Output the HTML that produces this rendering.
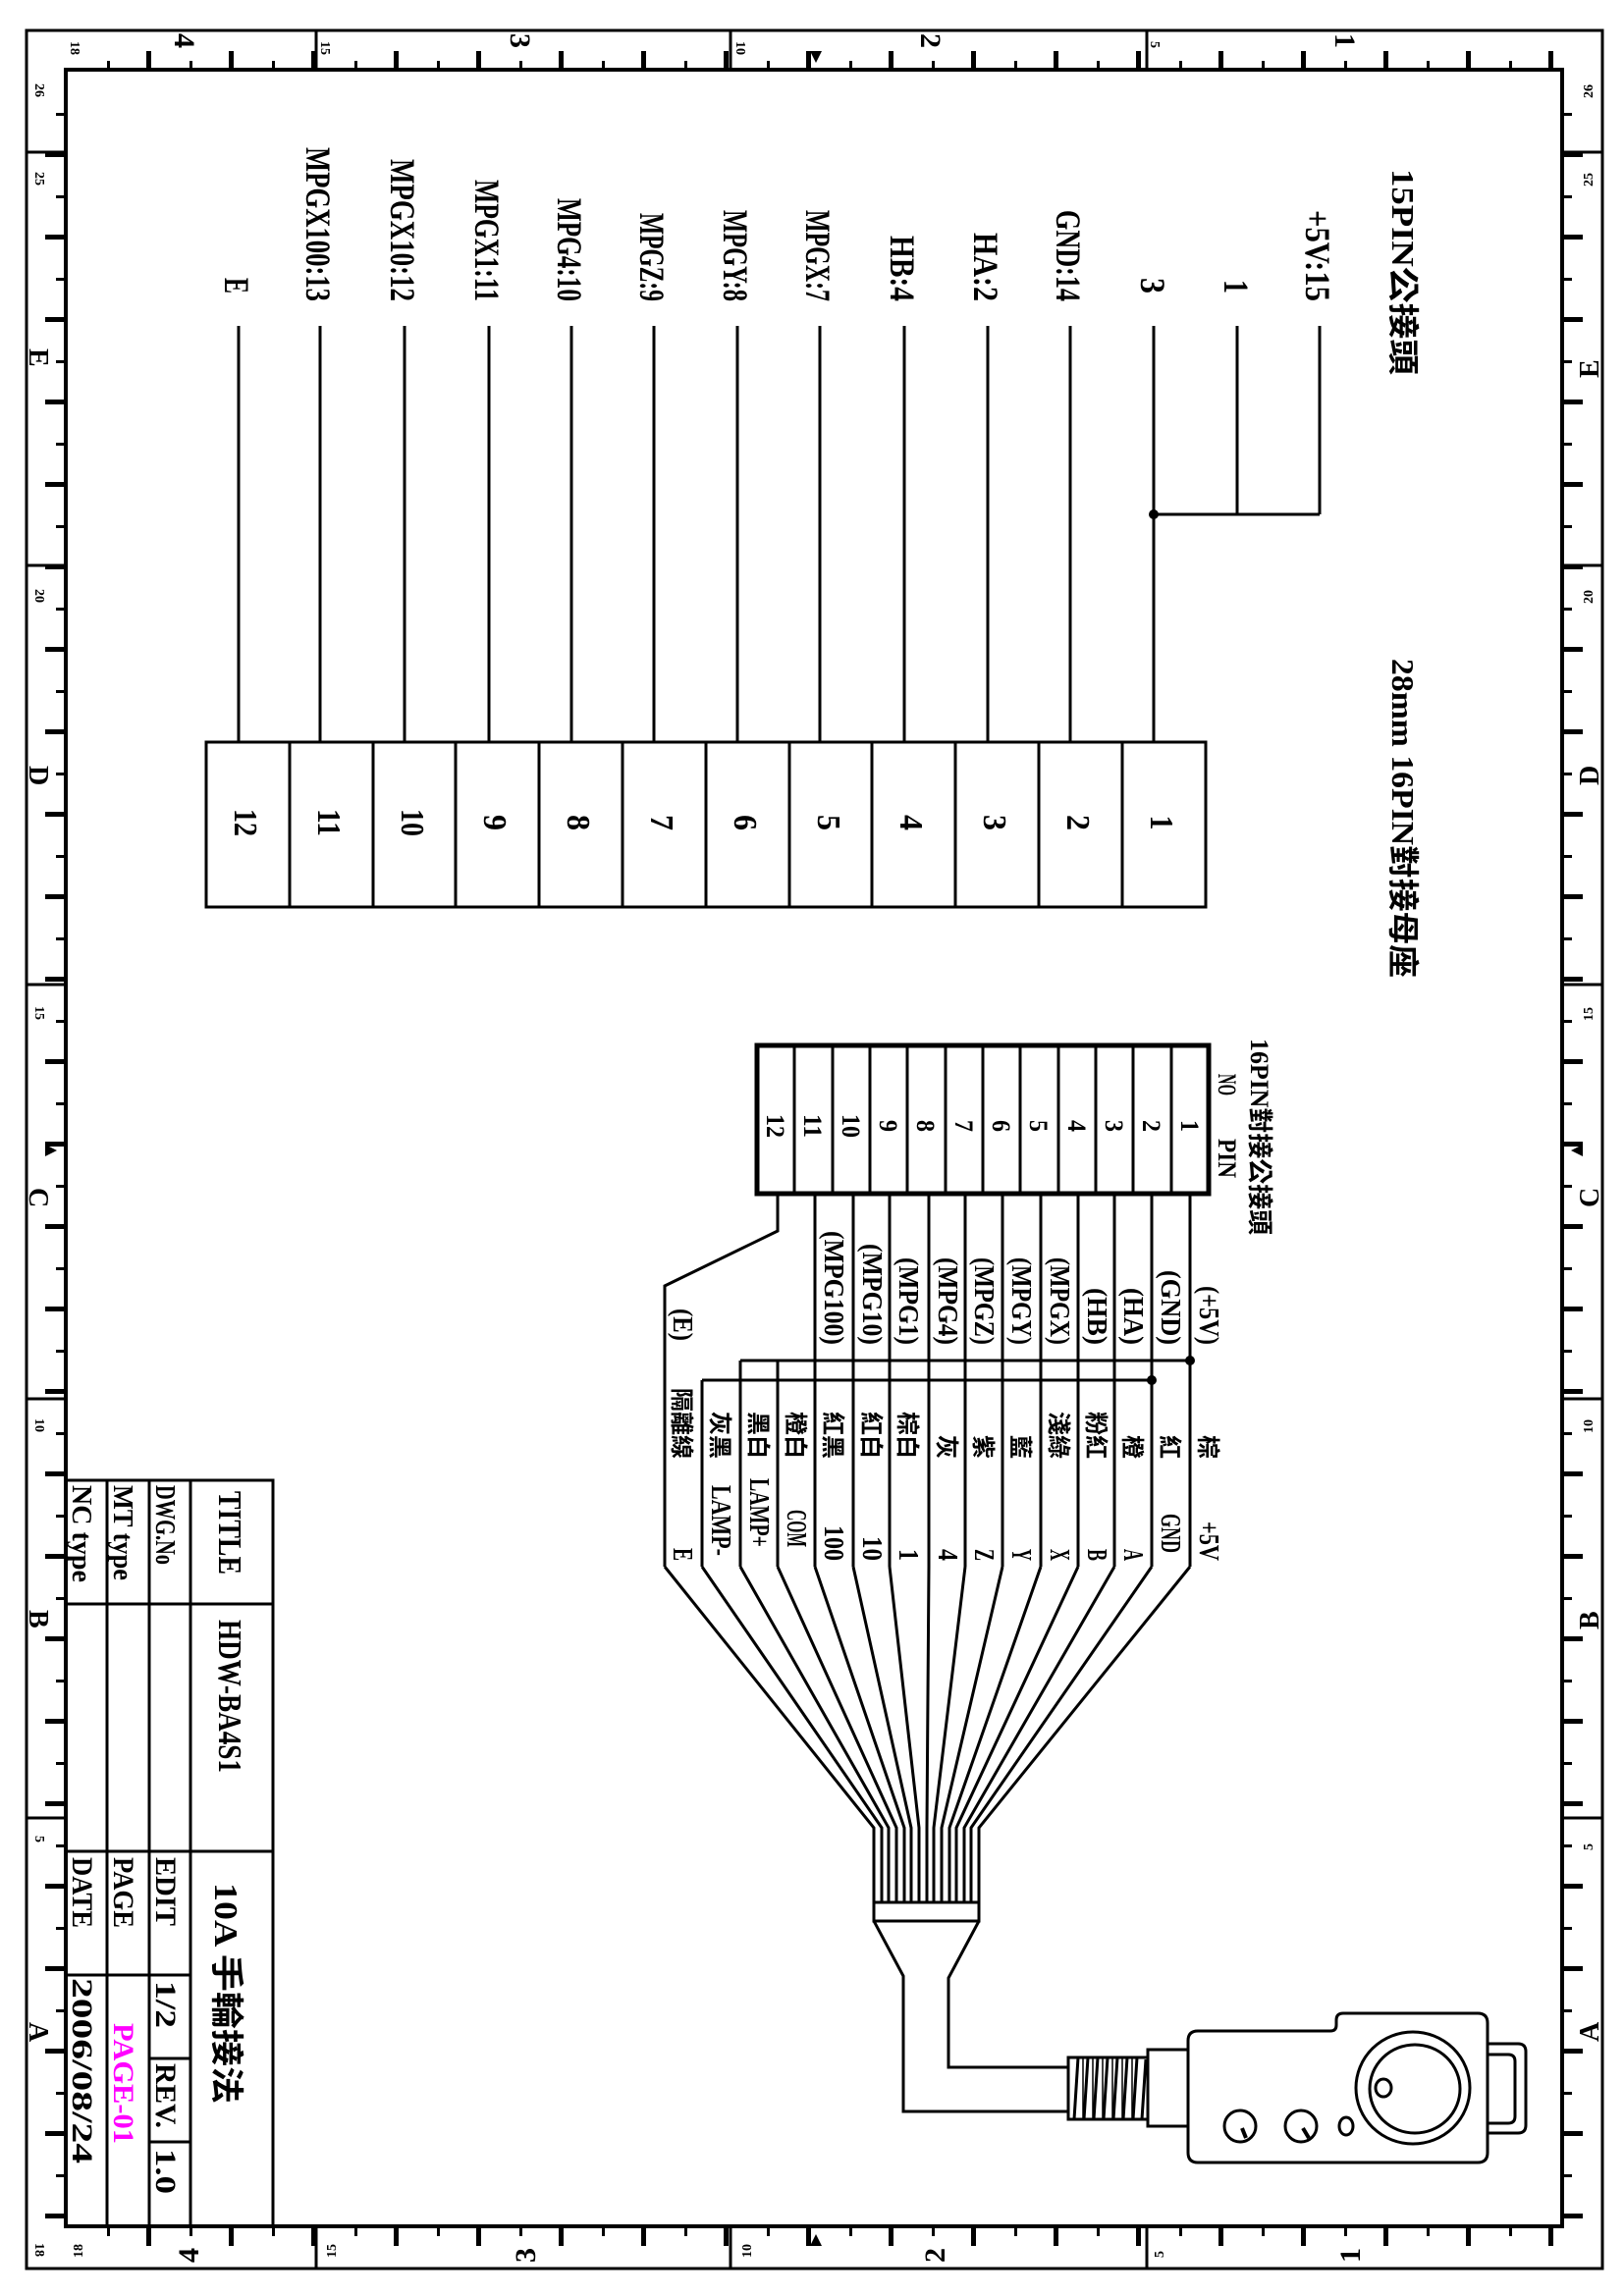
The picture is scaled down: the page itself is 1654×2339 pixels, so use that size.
<!DOCTYPE html>
<html><head><meta charset="utf-8"><style>
html,body{margin:0;padding:0;background:#fff;}
svg{display:block;}
text{font-family:"Liberation Serif","Noto Serif CJK SC","Noto Sans CJK TC",serif;font-weight:bold;fill:#000;}
.c{font-family:"Liberation Serif","Noto Sans CJK TC","Noto Sans CJK SC",sans-serif;}
</style></head><body>
<svg width="1654" height="2339" viewBox="0 0 1654 2339" xmlns="http://www.w3.org/2000/svg">
<defs>
<pattern id="pt" x="109" y="0" width="84" height="2339" patternUnits="userSpaceOnUse">
<rect x="-2" y="62" width="5" height="10"/><rect x="40" y="52" width="5" height="20"/>
</pattern>
<pattern id="pb" x="109" y="0" width="84" height="2339" patternUnits="userSpaceOnUse">
<rect x="-2" y="2268" width="5" height="10"/><rect x="40" y="2268" width="5" height="20"/>
</pattern>
<pattern id="pl" x="0" y="115" width="1654" height="84" patternUnits="userSpaceOnUse">
<rect x="57" y="-2" width="10" height="5"/><rect x="46" y="40" width="21" height="5"/>
</pattern>
<pattern id="pr" x="0" y="115" width="1654" height="84" patternUnits="userSpaceOnUse">
<rect x="1591" y="-2" width="10" height="5"/><rect x="1591" y="40" width="21" height="5"/>
</pattern>
</defs>
<rect width="1654" height="2339" fill="#fff"/>
<!-- ruler ticks -->
<rect x="75" y="31" width="1510" height="41" fill="url(#pt)"/>
<rect x="75" y="2268" width="1510" height="41" fill="url(#pb)"/>
<rect x="27" y="80" width="40" height="2180" fill="url(#pl)"/>
<rect x="1591" y="80" width="40" height="2180" fill="url(#pr)"/>
<g stroke="#000" fill="none">
<rect x="27" y="31" width="1605" height="2280" stroke-width="3"/>
<rect x="67" y="71" width="1524" height="2197" stroke-width="4"/>
<path d="M322 31V71M744 31V71M1168 31V71M322 2268V2311M744 2268V2311M1168 2268V2311M27 155H67M27 576H67M27 1003H67M27 1425H67M27 1852H67M1591 155H1632M1591 576H1632M1591 1003H1632M1591 1425H1632M1591 1852H1632" stroke-width="3"/>
</g>
<path d="M825 52L837 52L831 64Z M825 2288L837 2288L831 2276Z M46 1166L46 1178L58 1172Z M1612 1166L1612 1178L1600 1172Z"/>
<!-- ruler labels -->
<g font-size="22">
<text transform="translate(72,42) rotate(90)" font-size="14">18</text>
<text transform="translate(178,34) rotate(90)" font-size="30">4</text>
<text transform="translate(327,42) rotate(90)" font-size="14">15</text>
<text transform="translate(520,34) rotate(90)" font-size="30">3</text>
<text transform="translate(750,42) rotate(90)" font-size="14">10</text>
<text transform="translate(938,34) rotate(90)" font-size="30">2</text>
<text transform="translate(1172,42) rotate(90)" font-size="14">5</text>
<text transform="translate(1360,34) rotate(90)" font-size="30">1</text>
<text transform="translate(84,2300) rotate(-90)" font-size="14">18</text>
<text transform="translate(202,2305) rotate(-90)" font-size="30">4</text>
<text transform="translate(342,2300) rotate(-90)" font-size="14">15</text>
<text transform="translate(545,2305) rotate(-90)" font-size="30">3</text>
<text transform="translate(765,2300) rotate(-90)" font-size="14">10</text>
<text transform="translate(962,2305) rotate(-90)" font-size="30">2</text>
<text transform="translate(1185,2300) rotate(-90)" font-size="14">5</text>
<text transform="translate(1385,2305) rotate(-90)" font-size="30">1</text>
<text transform="translate(36,85) rotate(90)" font-size="14">26</text>
<text transform="translate(36,175) rotate(90)" font-size="14">25</text>
<text transform="translate(30,355) rotate(90)" font-size="28">E</text>
<text transform="translate(36,600) rotate(90)" font-size="14">20</text>
<text transform="translate(30,780) rotate(90)" font-size="28">D</text>
<text transform="translate(36,1025) rotate(90)" font-size="14">15</text>
<text transform="translate(30,1210) rotate(90)" font-size="28">C</text>
<text transform="translate(36,1445) rotate(90)" font-size="14">10</text>
<text transform="translate(30,1640) rotate(90)" font-size="28">B</text>
<text transform="translate(36,1870) rotate(90)" font-size="14">5</text>
<text transform="translate(30,2060) rotate(90)" font-size="28">A</text>
<text transform="translate(36,2285) rotate(90)" font-size="14">18</text>
<text transform="translate(1622,100) rotate(-90)" font-size="14">26</text>
<text transform="translate(1622,190) rotate(-90)" font-size="14">25</text>
<text transform="translate(1628,385) rotate(-90)" font-size="28">E</text>
<text transform="translate(1622,615) rotate(-90)" font-size="14">20</text>
<text transform="translate(1628,800) rotate(-90)" font-size="28">D</text>
<text transform="translate(1622,1040) rotate(-90)" font-size="14">15</text>
<text transform="translate(1628,1230) rotate(-90)" font-size="28">C</text>
<text transform="translate(1622,1460) rotate(-90)" font-size="14">10</text>
<text transform="translate(1628,1660) rotate(-90)" font-size="28">B</text>
<text transform="translate(1622,1885) rotate(-90)" font-size="14">5</text>
<text transform="translate(1628,2080) rotate(-90)" font-size="28">A</text>
</g>

<!-- 15PIN section -->
<g stroke="#000" stroke-width="3" fill="none">
<path d="M1344 332V524M1260 332V524M1175 332V756M1175 524H1344M1090 332V756M1006 332V756M921 332V756M835 332V756M751 332V756M666 332V756M582 332V756M498 332V756M412 332V756M326 332V756M243 332V756"/>
<rect x="210" y="756" width="1018" height="168"/>
<path d="M1143 756V924M1058 756V924M973 756V924M888 756V924M804 756V924M719 756V924M634 756V924M549 756V924M464 756V924M380 756V924M295 756V924"/>
</g>
<circle cx="1175" cy="524" r="5"/>
<g font-size="36" text-anchor="end">
<text transform="translate(1330,307) rotate(90)" textLength="93" lengthAdjust="spacingAndGlyphs">+5V:15</text>
<text transform="translate(1247,299) rotate(90)" textLength="14" lengthAdjust="spacingAndGlyphs">1</text>
<text transform="translate(1162,299) rotate(90)" textLength="16" lengthAdjust="spacingAndGlyphs">3</text>
<text transform="translate(1076,307) rotate(90)" textLength="93" lengthAdjust="spacingAndGlyphs">GND:14</text>
<text transform="translate(992,307) rotate(90)" textLength="70" lengthAdjust="spacingAndGlyphs">HA:2</text>
<text transform="translate(907,307) rotate(90)" textLength="67" lengthAdjust="spacingAndGlyphs">HB:4</text>
<text transform="translate(821,307) rotate(90)" textLength="93" lengthAdjust="spacingAndGlyphs">MPGX:7</text>
<text transform="translate(737,307) rotate(90)" textLength="93" lengthAdjust="spacingAndGlyphs">MPGY:8</text>
<text transform="translate(652,307) rotate(90)" textLength="90" lengthAdjust="spacingAndGlyphs">MPGZ:9</text>
<text transform="translate(568,307) rotate(90)" textLength="105" lengthAdjust="spacingAndGlyphs">MPG4:10</text>
<text transform="translate(484,307) rotate(90)" textLength="124" lengthAdjust="spacingAndGlyphs">MPGX1:11</text>
<text transform="translate(398,307) rotate(90)" textLength="145" lengthAdjust="spacingAndGlyphs">MPGX10:12</text>
<text transform="translate(312,307) rotate(90)" textLength="157" lengthAdjust="spacingAndGlyphs">MPGX100:13</text>
<text transform="translate(229,299) rotate(90)" textLength="16" lengthAdjust="spacingAndGlyphs">E</text>
</g>
<g font-size="34" text-anchor="middle">
<text transform="translate(1172,838) rotate(90)" textLength="15" lengthAdjust="spacingAndGlyphs">1</text>
<text transform="translate(1087,838) rotate(90)" textLength="16" lengthAdjust="spacingAndGlyphs">2</text>
<text transform="translate(1002,838) rotate(90)" textLength="16" lengthAdjust="spacingAndGlyphs">3</text>
<text transform="translate(917,838) rotate(90)" textLength="16" lengthAdjust="spacingAndGlyphs">4</text>
<text transform="translate(833,838) rotate(90)" textLength="16" lengthAdjust="spacingAndGlyphs">5</text>
<text transform="translate(748,838) rotate(90)" textLength="16" lengthAdjust="spacingAndGlyphs">6</text>
<text transform="translate(663,838) rotate(90)" textLength="16" lengthAdjust="spacingAndGlyphs">7</text>
<text transform="translate(578,838) rotate(90)" textLength="16" lengthAdjust="spacingAndGlyphs">8</text>
<text transform="translate(493,838) rotate(90)" textLength="16" lengthAdjust="spacingAndGlyphs">9</text>
<text transform="translate(409,838) rotate(90)" textLength="28" lengthAdjust="spacingAndGlyphs">10</text>
<text transform="translate(324,838) rotate(90)" textLength="28" lengthAdjust="spacingAndGlyphs">11</text>
<text transform="translate(239,838) rotate(90)" textLength="28" lengthAdjust="spacingAndGlyphs">12</text>
</g>
<text class="c" transform="translate(1418,172) rotate(90)" font-size="32" textLength="210" lengthAdjust="spacingAndGlyphs">15PIN公接頭</text>
<text class="c" transform="translate(1418,671) rotate(90)" font-size="32" textLength="325" lengthAdjust="spacingAndGlyphs">28mm 16PIN對接母座</text>

<!-- 16PIN male connector -->
<g stroke="#000" fill="none">
<rect x="771" y="1065" width="460" height="151" stroke-width="5"/>
<path d="M1193 1065V1216M1154 1065V1216M1116 1065V1216M1078 1065V1216M1039 1065V1216M1001 1065V1216M963 1065V1216M924 1065V1216M886 1065V1216M848 1065V1216M809 1065V1216" stroke-width="3"/>
<g stroke-width="3">
<path d="M1212 1216V1596M1173 1216V1596M1135 1216V1596M1098 1216V1596M1060 1216V1596M1021 1216V1596M983 1216V1596M946 1216V1596M906 1216V1596M869 1216V1596M830 1216V1596"/>
<path d="M792 1216V1254L677 1310V1596"/>
<path d="M754 1386H1212M792 1386V1596M754 1386V1596M715 1406H1173M715 1406V1596"/>
<path d="M1212 1596L997 1862V1938M1173 1596L989 1862V1938M1135 1596L982 1862V1938M1098 1596L974 1862V1938M1060 1596L967 1862V1938M1021 1596L959 1862V1938M983 1596L951 1862V1938M946 1596L944 1862V1938M906 1596L936 1862V1938M869 1596L928 1862V1938M830 1596L921 1862V1938M792 1596L913 1862V1938M754 1596L905 1862V1938M715 1596L898 1862V1938M677 1596L890 1862V1938"/>
<rect x="890" y="1938" width="107" height="19"/>
<path d="M890 1957L920 2013V2151H1088M997 1957L966 2015V2106H1088"/>
<rect x="1088" y="2096" width="81" height="63"/>
<path d="M1098 2096L1094 2159M1108 2096L1104 2159M1118 2096L1114 2159M1128 2096L1124 2159M1138 2096L1134 2159M1148 2096L1144 2159M1158 2096L1154 2159M1167 2098L1163 2159"/>
<path d="M1103 2096V2159M1113 2096V2159M1123 2096V2159M1133 2096V2159M1143 2096V2159M1153 2096V2159" stroke-width="1.5"/>
<rect x="1169" y="2088" width="41" height="78"/>
<path d="M1220 2069H1355Q1361 2069 1361 2063V2058Q1361 2051 1368 2051H1505Q1515 2051 1515 2061V2193Q1515 2203 1505 2203H1220Q1210 2203 1210 2193V2079Q1210 2069 1220 2069Z"/>
<path d="M1515 2082H1546Q1554 2082 1554 2090V2165Q1554 2173 1546 2173H1515M1515 2093H1536Q1543 2093 1543 2100V2156Q1543 2163 1536 2163H1515"/>
<ellipse cx="1439" cy="2127" rx="58" ry="57"/>
<ellipse cx="1441" cy="2128" rx="46" ry="45"/>
<ellipse cx="1409" cy="2127" rx="8" ry="9"/>
<ellipse cx="1371" cy="2166" rx="7" ry="9"/>
<circle cx="1325" cy="2166" r="16"/>
<circle cx="1263" cy="2166" r="16"/>
<path d="M1327 2168L1333 2178M1265 2168L1269 2178" stroke-width="4"/>
</g>
</g>
<circle cx="1212" cy="1386" r="5"/>
<circle cx="1173" cy="1406" r="5"/>
<g font-size="26" text-anchor="middle">
<text transform="translate(1203,1147) rotate(90)" textLength="12" lengthAdjust="spacingAndGlyphs">1</text>
<text transform="translate(1164,1147) rotate(90)" textLength="12" lengthAdjust="spacingAndGlyphs">2</text>
<text transform="translate(1126,1147) rotate(90)" textLength="12" lengthAdjust="spacingAndGlyphs">3</text>
<text transform="translate(1088,1147) rotate(90)" textLength="12" lengthAdjust="spacingAndGlyphs">4</text>
<text transform="translate(1049,1147) rotate(90)" textLength="12" lengthAdjust="spacingAndGlyphs">5</text>
<text transform="translate(1011,1147) rotate(90)" textLength="12" lengthAdjust="spacingAndGlyphs">6</text>
<text transform="translate(973,1147) rotate(90)" textLength="12" lengthAdjust="spacingAndGlyphs">7</text>
<text transform="translate(934,1147) rotate(90)" textLength="12" lengthAdjust="spacingAndGlyphs">8</text>
<text transform="translate(896,1147) rotate(90)" textLength="12" lengthAdjust="spacingAndGlyphs">9</text>
<text transform="translate(858,1147) rotate(90)" textLength="24" lengthAdjust="spacingAndGlyphs">10</text>
<text transform="translate(819,1147) rotate(90)" textLength="24" lengthAdjust="spacingAndGlyphs">11</text>
<text transform="translate(781,1147) rotate(90)" textLength="24" lengthAdjust="spacingAndGlyphs">12</text>
</g>
<g font-size="26">
<text transform="translate(1241,1094) rotate(90)" textLength="22" lengthAdjust="spacingAndGlyphs">NO</text>
<text transform="translate(1241,1160) rotate(90)" textLength="40" lengthAdjust="spacingAndGlyphs">PIN</text>
<text class="c" transform="translate(1274,1058) rotate(90)" textLength="200" lengthAdjust="spacingAndGlyphs">16PIN對接公接頭</text>
</g>
<g font-size="28" text-anchor="end">
<text transform="translate(1222,1370) rotate(90)" textLength="60" lengthAdjust="spacingAndGlyphs">(+5V)</text>
<text transform="translate(1183,1370) rotate(90)" textLength="76" lengthAdjust="spacingAndGlyphs">(GND)</text>
<text transform="translate(1145,1370) rotate(90)" textLength="58" lengthAdjust="spacingAndGlyphs">(HA)</text>
<text transform="translate(1108,1370) rotate(90)" textLength="58" lengthAdjust="spacingAndGlyphs">(HB)</text>
<text transform="translate(1070,1370) rotate(90)" textLength="89" lengthAdjust="spacingAndGlyphs">(MPGX)</text>
<text transform="translate(1031,1370) rotate(90)" textLength="89" lengthAdjust="spacingAndGlyphs">(MPGY)</text>
<text transform="translate(993,1370) rotate(90)" textLength="89" lengthAdjust="spacingAndGlyphs">(MPGZ)</text>
<text transform="translate(956,1370) rotate(90)" textLength="89" lengthAdjust="spacingAndGlyphs">(MPG4)</text>
<text transform="translate(916,1370) rotate(90)" textLength="89" lengthAdjust="spacingAndGlyphs">(MPG1)</text>
<text transform="translate(879,1370) rotate(90)" textLength="103" lengthAdjust="spacingAndGlyphs">(MPG10)</text>
<text transform="translate(840,1370) rotate(90)" textLength="116" lengthAdjust="spacingAndGlyphs">(MPG100)</text>
<text transform="translate(686,1366) rotate(90)" textLength="33" lengthAdjust="spacingAndGlyphs">(E)</text>
</g>
<g class="c" font-size="24" text-anchor="end">
<text class="c" transform="translate(1222,1486) rotate(90)">棕</text>
<text class="c" transform="translate(1183,1486) rotate(90)">紅</text>
<text class="c" transform="translate(1145,1486) rotate(90)">橙</text>
<text class="c" transform="translate(1108,1486) rotate(90)">粉紅</text>
<text class="c" transform="translate(1070,1486) rotate(90)">淺綠</text>
<text class="c" transform="translate(1031,1486) rotate(90)">藍</text>
<text class="c" transform="translate(993,1486) rotate(90)">紫</text>
<text class="c" transform="translate(956,1486) rotate(90)">灰</text>
<text class="c" transform="translate(916,1486) rotate(90)">棕白</text>
<text class="c" transform="translate(879,1486) rotate(90)">紅白</text>
<text class="c" transform="translate(840,1486) rotate(90)">紅黑</text>
<text class="c" transform="translate(802,1486) rotate(90)">橙白</text>
<text class="c" transform="translate(764,1486) rotate(90)">黑白</text>
<text class="c" transform="translate(725,1486) rotate(90)">灰黑</text>
<text class="c" transform="translate(686,1486) rotate(90)">隔離線</text>
</g>
<g font-size="28" text-anchor="end">
<text transform="translate(1222,1590) rotate(90)" textLength="40" lengthAdjust="spacingAndGlyphs">+5V</text>
<text transform="translate(1183,1582) rotate(90)" textLength="40" lengthAdjust="spacingAndGlyphs">GND</text>
<text transform="translate(1145,1590) rotate(90)" textLength="12" lengthAdjust="spacingAndGlyphs">A</text>
<text transform="translate(1108,1590) rotate(90)" textLength="12" lengthAdjust="spacingAndGlyphs">B</text>
<text transform="translate(1070,1590) rotate(90)" textLength="12" lengthAdjust="spacingAndGlyphs">X</text>
<text transform="translate(1031,1590) rotate(90)" textLength="12" lengthAdjust="spacingAndGlyphs">Y</text>
<text transform="translate(993,1590) rotate(90)" textLength="12" lengthAdjust="spacingAndGlyphs">Z</text>
<text transform="translate(956,1590) rotate(90)" textLength="12" lengthAdjust="spacingAndGlyphs">4</text>
<text transform="translate(916,1590) rotate(90)" textLength="12" lengthAdjust="spacingAndGlyphs">1</text>
<text transform="translate(879,1590) rotate(90)" textLength="25" lengthAdjust="spacingAndGlyphs">10</text>
<text transform="translate(840,1590) rotate(90)" textLength="36" lengthAdjust="spacingAndGlyphs">100</text>
<text transform="translate(802,1576) rotate(90)" textLength="38" lengthAdjust="spacingAndGlyphs">COM</text>
<text transform="translate(764,1576) rotate(90)" textLength="70" lengthAdjust="spacingAndGlyphs">LAMP+</text>
<text transform="translate(725,1585) rotate(90)" textLength="72" lengthAdjust="spacingAndGlyphs">LAMP-</text>
<text transform="translate(686,1590) rotate(90)" textLength="13" lengthAdjust="spacingAndGlyphs">E</text>
</g>

<!-- title block -->
<g stroke="#000" stroke-width="3" fill="none">
<path d="M67 1508H278V2268M109 1508V2268M152 1508V2268M194 1508V2268M67 1634H278M67 1886H278M67 2012H194M152 2097H194M152 2182H194"/>
</g>
<g font-size="34">
<text transform="translate(223,1519) rotate(90)" textLength="85" lengthAdjust="spacingAndGlyphs">TITLE</text>
<text transform="translate(223,1650) rotate(90)" textLength="156" lengthAdjust="spacingAndGlyphs">HDW-BA4S1</text>
<text class="c" transform="translate(219,1918) rotate(90)" textLength="225" lengthAdjust="spacingAndGlyphs">10A 手輪接法</text>
<text transform="translate(159,1513) rotate(90)" font-size="28" textLength="81" lengthAdjust="spacingAndGlyphs">DWG.No</text>
<text transform="translate(116,1513) rotate(90)" font-size="28" textLength="97" lengthAdjust="spacingAndGlyphs">MT type</text>
<text transform="translate(74,1513) rotate(90)" font-size="28" textLength="99" lengthAdjust="spacingAndGlyphs">NC type</text>
<text transform="translate(159,1892) rotate(90)" font-size="30" textLength="70" lengthAdjust="spacingAndGlyphs">EDIT</text>
<text transform="translate(116,1892) rotate(90)" font-size="30" textLength="72" lengthAdjust="spacingAndGlyphs">PAGE</text>
<text transform="translate(74,1892) rotate(90)" font-size="30" textLength="72" lengthAdjust="spacingAndGlyphs">DATE</text>
<text transform="translate(159,2018) rotate(90)" font-size="30" textLength="48" lengthAdjust="spacingAndGlyphs">1/2</text>
<text transform="translate(159,2102) rotate(90)" font-size="30" textLength="66" lengthAdjust="spacingAndGlyphs">REV.</text>
<text transform="translate(159,2189) rotate(90)" font-size="30" textLength="46" lengthAdjust="spacingAndGlyphs">1.0</text>
<text transform="translate(116,2061) rotate(90)" font-size="30" fill="#ff00ff" style="fill:#ff00ff" textLength="123" lengthAdjust="spacingAndGlyphs">PAGE-01</text>
<text transform="translate(74,2015) rotate(90)" font-size="30" textLength="189" lengthAdjust="spacingAndGlyphs">2006/08/24</text>
</g>
</svg>
</body></html>
